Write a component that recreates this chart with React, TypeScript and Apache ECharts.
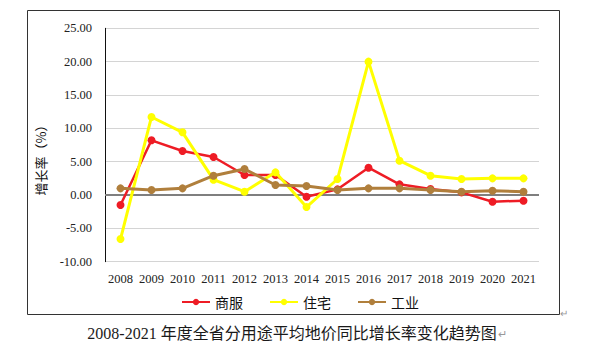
import React, { useEffect, useRef } from "react";
import * as echarts from "echarts";

const years = ["2008","2009","2010","2011","2012","2013","2014","2015","2016","2017","2018","2019","2020","2021"];
const shangfu = [-1.5, 8.2, 6.6, 5.7, 3.0, 3.0, -0.25, 0.85, 4.1, 1.6, 0.9, 0.4, -1.0, -0.85];
const zhuzhai = [-6.6, 11.7, 9.4, 2.3, 0.5, 3.4, -1.8, 2.4, 20.0, 5.15, 2.9, 2.4, 2.5, 2.5];
const gongye = [1.0, 0.75, 1.0, 2.9, 3.9, 1.5, 1.35, 0.75, 1.0, 1.0, 0.75, 0.5, 0.65, 0.5];
const seriesNames = ["商服", "住宅", "工业"];
const colors = ["#ee1c25", "#ffff00", "#b07f3c"];
const titleText = "2008-2021 年度全省分用途平均地价同比增长率变化趋势图";
const yName = "增长率（%）";

export default function App() {
  const ref = useRef<HTMLDivElement>(null);
  useEffect(() => {
    const chart = echarts.init(ref.current!, null, { renderer: "svg" });
    const datasets = [shangfu, zhuzhai, gongye];
    const widths = [2.5, 3, 3];
    chart.setOption({
      animation: false,
      backgroundColor: "#ffffff",
      grid: { left: 105, right: 61, top: 28.3, bottom: 94.3, containLabel: false },
      legend: {
        data: seriesNames,
        top: 290,
        left: "center",
        itemWidth: 28,
        itemHeight: 8,
        itemGap: 26,
        textStyle: { fontSize: 14, color: "#111", fontFamily: "Noto Sans CJK SC" },
      },
      xAxis: {
        type: "category",
        data: years,
        boundaryGap: true,
        axisLine: { show: false },
        axisTick: { show: false },
        axisLabel: { interval: 0, fontSize: 12.5, color: "#222", fontFamily: "Liberation Serif", margin: 11 },
      },
      yAxis: {
        type: "value",
        min: -10,
        max: 25,
        interval: 5,
        axisLine: { show: true, lineStyle: { color: "#111", width: 1 } },
        axisTick: { show: false },
        splitLine: { lineStyle: { color: "#d4d4d4", width: 1 } },
        axisLabel: {
          fontSize: 12.5,
          color: "#222",
          fontFamily: "Liberation Serif",
          margin: 13,
          formatter: (v: number) => v.toFixed(2),
        },
      },
      series: datasets.map((d, i) => ({
        name: seriesNames[i],
        type: "line",
        data: d,
        symbol: "circle",
        symbolSize: 8,
        itemStyle: { color: colors[i] },
        lineStyle: { color: colors[i], width: widths[i] },
        z: 3 + i,
        markLine:
          i === 0
            ? {
                silent: true,
                symbol: "none",
                label: { show: false },
                lineStyle: { color: "#7f7f7f", width: 2, type: "solid" },
                data: [{ yAxis: 0 }],
                z: 1,
              }
            : undefined,
      })),
      graphic: [
        {
          type: "rect",
          shape: { x: 27.5, y: 10.5, width: 532, height: 304 },
          style: { fill: "none", stroke: "#333", lineWidth: 1 },
          silent: true,
        },
        {
          type: "text",
          x: 40,
          y: 157,
          rotation: Math.PI / 2,
          style: {
            text: yName,
            fontSize: 13,
            fill: "#111",
            fontFamily: "Noto Sans CJK SC",
            align: "center",
            verticalAlign: "middle",
          },
        },
        {
          type: "text",
          x: 292,
          y: 333,
          style: {
            text: titleText,
            fontSize: 16,
            fill: "#1a1a1a",
            fontFamily: "Liberation Serif, Noto Sans CJK SC",
            align: "center",
            verticalAlign: "middle",
          },
        },
        {
          type: "text",
          x: 502,
          y: 334,
          style: { text: "↵", fontSize: 11, fill: "#999", align: "center", verticalAlign: "middle" },
        },
        {
          type: "text",
          x: 564,
          y: 313,
          style: { text: "↵", fontSize: 10, fill: "#999", align: "center", verticalAlign: "middle" },
        },
      ],
    });
    return () => chart.dispose();
  }, []);
  return <div ref={ref} style={{ width: 600, height: 356, position: "absolute", left: 0, top: 0 }} />;
}
